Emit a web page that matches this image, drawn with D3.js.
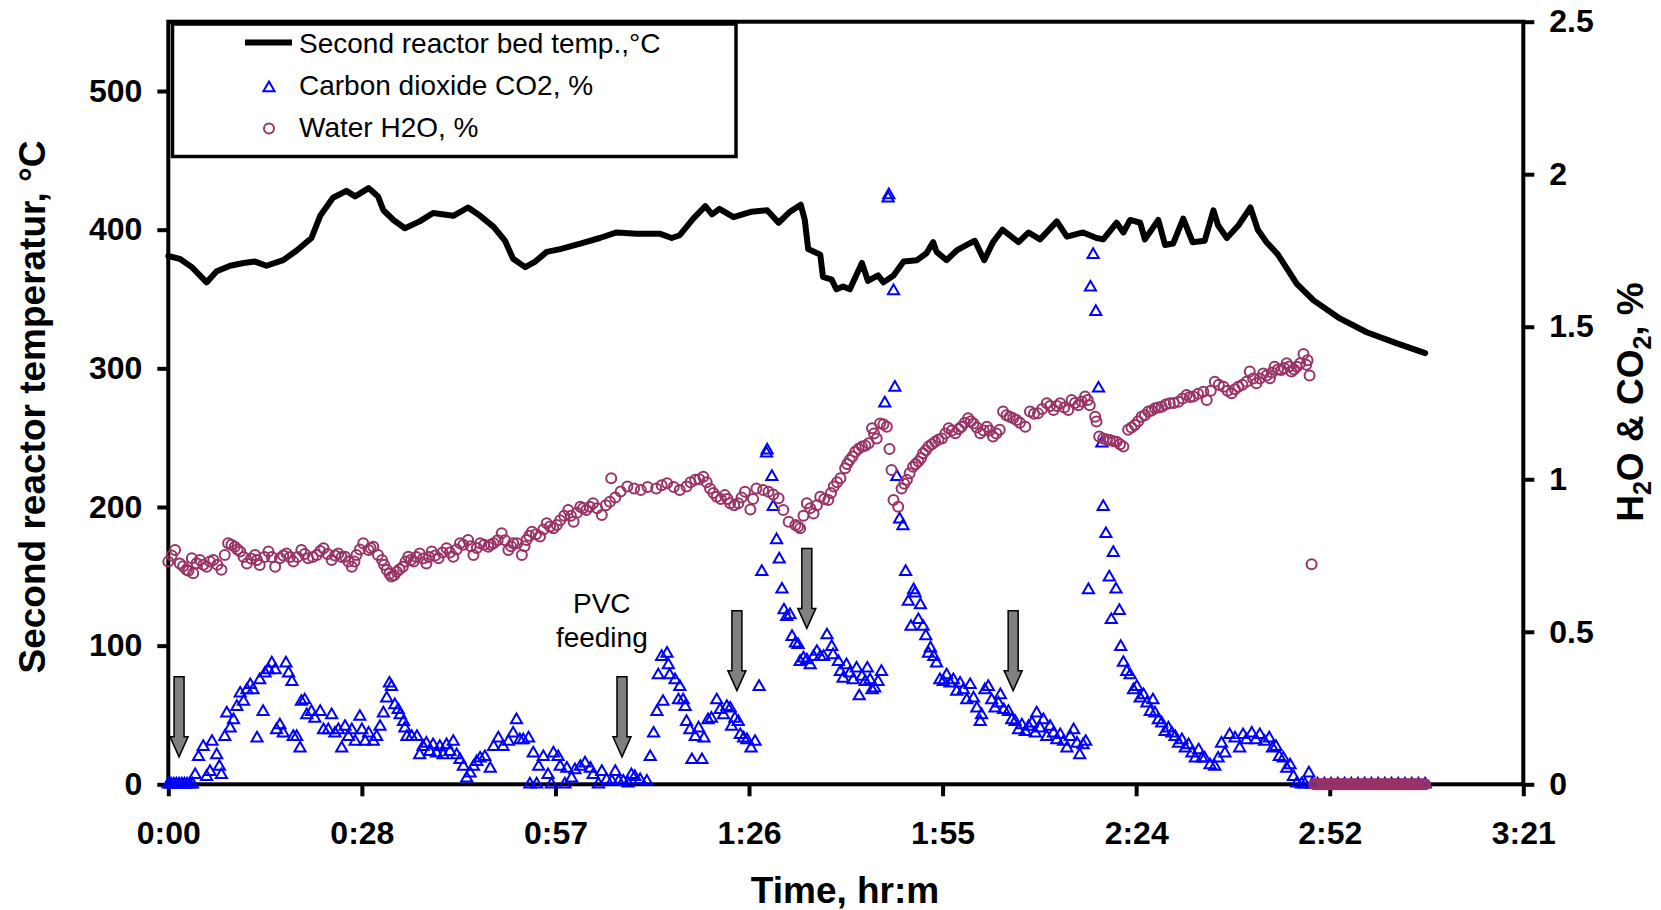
<!DOCTYPE html>
<html>
<head>
<meta charset="utf-8">
<script src="https://cdn.jsdelivr.net/npm/d3@7"></script>
<style>
body { margin: 0; background: #fff; }
svg text { font-family: "Liberation Sans", Arial, sans-serif; fill: #000; }
.axis path.domain { display: none; }
.axis line { stroke: #000; stroke-width: 4; }
.axis text { font-size: 32px; font-weight: bold; }
.title { font-size: 37px; font-weight: bold; }
</style>
</head>
<body>
<div id="chart"></div>
<script>
// time in minutes
var tempData = [
  [0,381],[1.7,379],[3.5,373],[5.7,362],[7.2,370],[9.2,374],[11.2,376],[12.9,377],[14.6,374],[17.1,378],
  [19.1,385],[21.3,394],[22.6,410],[24.5,423],[26.5,428],[27.8,424],[29.8,430],[31.2,424],[32.0,414],[33.5,407],
  [35.2,401],[37.4,406],[39.4,412],[42.4,410],[44.6,416],[46.4,410],[48.4,402],[50.1,392],[51.3,379],[53.1,373],
  [54.6,377],[56.3,384],[58.3,386],[61.3,390],[64.2,394],[66.7,398],[69.7,397],[73.2,397],[74.9,394],[76.1,396],
  [78.1,408],[79.9,417],[80.9,411],[82.0,415],[84.1,409],[86.8,413],[89.1,414],[90.8,405],[92.5,413],[94.1,418],
  [94.7,407],[95.2,386],[97.0,382],[97.4,366],[98.7,364],[99.4,357],[100.4,359],[101.4,357],[103.2,376],[104.1,363],
  [105.6,367],[106.4,362],[107.9,367],[109.4,377],[111.4,378],[112.8,383],[113.8,391],[114.3,384],[115.8,378],[117.3,385],
  [118.8,389],[120.0,392],[121.4,378],[122.7,391],[124.1,400],[126.5,391],[128.0,398],[129.7,393],[132.2,406],[133.7,395],
  [136.1,398],[138.1,394],[139.1,393],[141.1,405],[142.1,398],[143.1,407],[144.6,405],[145.3,393],[147.3,407],[148.3,389],
  [149.5,390],[151.0,408],[152.4,391],[154.2,392],[155.5,414],[156.2,403],[157.5,394],[159.2,403],[161.0,416],[162.1,400],
  [163.4,391],[165.1,382],[167.9,361],[170.4,349],[174.3,336],[178.3,326],[182.8,318],[187.0,311]
];

var co2Data = [
  [0,0],[0.4,0],[0.8,0],[1.2,0],[1.6,0],[2.0,0],[2.4,0],[2.8,0],[3.2,0],[3.6,0],
  [4.0,0.031],[4.5,0.090],[5.2,0.123],[5.7,0.025],[6.2,0.041],[6.5,0.140],[7.2,0.096],[7.6,0.058],[7.9,0.031],[8.4,0.156],
  [8.7,0.233],[9.2,0.184],[9.7,0.211],[10.2,0.254],[10.7,0.298],[11.2,0.271],[11.7,0.309],[12.2,0.326],[12.6,0.309],[13.2,0.151],
  [13.6,0.342],[14.1,0.238],[14.4,0.364],[14.9,0.375],[15.4,0.397],[15.9,0.375],[16.1,0.178],[16.6,0.194],[17.1,0.167],[17.5,0.397],
  [17.9,0.364],[18.4,0.336],[18.6,0.156],[19.1,0.156],[19.6,0.118],[19.8,0.271],[20.3,0.276],[20.6,0.227],[21.3,0.238],[21.8,0.216],
  [22.6,0.238],[23.1,0.178],[23.8,0.178],[24.3,0.227],[24.8,0.167],[25.3,0.178],[25.8,0.118],[26.3,0.189],[26.8,0.156],[27.3,0.178],
  [27.8,0.140],[28.5,0.222],[28.8,0.178],[29.3,0.140],[29.8,0.167],[30.5,0.140],[31.0,0.156],[31.5,0.189],[32.0,0.233],[32.5,0.282],
  [32.9,0.331],[33.2,0.320],[33.7,0.260],[34.2,0.244],[34.5,0.227],[35.0,0.205],[35.2,0.184],[35.5,0.156],[36.2,0.156],[37.0,0.156],
  [37.4,0.096],[37.9,0.123],[38.4,0.134],[38.9,0.107],[39.4,0.129],[39.9,0.102],[40.4,0.123],[40.9,0.096],[41.4,0.129],[41.9,0.107],
  [42.4,0.140],[42.9,0.096],[43.4,0.080],[43.9,0.058],[44.4,0.020],[44.9,0.036],[45.4,0.058],[45.9,0.074],[46.4,0.085],[47.1,0.090],
  [47.9,0.052],[48.4,0.123],[49.1,0.151],[49.8,0.123],[50.6,0.140],[51.3,0.167],[51.8,0.211],[52.3,0.145],[52.8,0.145],[53.6,0.151],
  [53.8,0],[54.3,0.102],[54.8,0],[55.1,0.058],[55.8,0.090],[56.5,0.031],[57.0,0],[57.3,0.102],[58.0,0.090],[58.3,0.058],
  [59.0,0],[59.3,0.052],[60.0,0.020],[60.5,0.047],[61.3,0.058],[62.0,0.069],[62.8,0.052],[63.2,0.031],[64.0,0],[64.5,0.041],
  [65.2,0.014],[66.0,0.009],[66.5,0.041],[67.0,0.009],[67.7,0.009],[68.4,0.003],[68.9,0.031],[69.4,0.025],[70.2,0.014],[71.2,0.009],
  [71.7,0.090],[72.2,0.167],[72.7,0.238],[72.9,0.358],[73.4,0.418],[73.6,0.271],[74.2,0.429],[74.4,0.391],[74.6,0.358],[75.4,0.342],
  [75.9,0.276],[76.1,0.320],[76.6,0.276],[76.9,0.254],[77.1,0.205],[77.6,0.178],[77.9,0.080],[78.4,0.156],[78.9,0.184],[79.4,0.080],
  [79.7,0.151],[80.3,0.211],[80.8,0.216],[81.6,0.276],[82.1,0.244],[82.6,0.227],[83.1,0.254],[83.6,0.249],[83.8,0.189],[84.3,0.216],
  [84.8,0.205],[85.1,0.162],[85.6,0.151],[86.1,0.145],[86.7,0.118],[87.3,0.140],[87.9,0.320],[88.3,0.697],[89.0,1.085],[89.1,1.095],
  [89.8,1.008],[90.0,0.910],[90.5,0.801],[90.9,0.738],[91.3,0.639],[91.6,0.571],[92.0,0.549],[92.5,0.555],[92.8,0.484],[93.3,0.462],
  [93.7,0.457],[94.0,0.402],[94.5,0.413],[95.0,0.407],[95.5,0.391],[96.0,0.418],[96.5,0.435],[97.0,0.418],[97.5,0.418],[98.0,0.489],
  [98.7,0.451],[98.9,0.424],[99.7,0.402],[100.0,0.369],[100.4,0.347],[100.9,0.391],[101.4,0.364],[101.9,0.342],[102.4,0.380],[102.8,0.289],
  [103.2,0.353],[103.7,0.336],[104.0,0.380],[104.4,0.342],[104.7,0.309],[105.1,0.315],[105.6,0.336],[106.1,0.369],[106.6,1.249],[107.1,1.921],
  [107.2,1.932],[107.9,1.617],[108.1,1.301],[108.4,1.008],[108.8,0.869],[109.3,0.847],[109.7,0.697],[110.1,0.599],[110.5,0.517],[110.9,0.637],
  [111.1,0.626],[111.6,0.539],[111.9,0.588],[112.3,0.517],[112.7,0.486],[113.1,0.429],[113.4,0.446],[113.9,0.418],[114.3,0.397],[114.8,0.342],
  [115.3,0.336],[115.8,0.358],[116.3,0.331],[116.8,0.342],[117.3,0.304],[117.8,0.331],[118.3,0.309],[118.8,0.276],[119.3,0.326],[119.8,0.282],
  [120.3,0.249],[120.8,0.205],[121.0,0.227],[121.5,0.309],[122.0,0.320],[122.5,0.276],[123.0,0.249],[123.5,0.266],[123.8,0.293],[124.3,0.244],
  [125.0,0.238],[125.5,0.211],[126.0,0.205],[126.5,0.178],[127.0,0.194],[127.5,0.172],[128.0,0.189],[128.5,0.200],[129.0,0.167],[129.2,0.233],
  [129.7,0.184],[130.2,0.211],[130.7,0.156],[131.2,0.189],[131.7,0.167],[132.2,0.145],[132.7,0.162],[133.2,0.140],[133.7,0.118],[134.2,0.156],
  [134.7,0.178],[135.2,0.134],[135.6,0.096],[136.1,0.129],[136.5,0.140],[136.9,0.637],[137.2,1.629],[137.6,1.736],[138.0,1.549],[138.4,1.298],
  [138.9,1.118],[139.1,0.910],[139.5,0.821],[140.0,0.679],[140.3,0.539],[140.6,0.759],[141.0,0.639],[141.5,0.569],[141.7,0.451],[142.1,0.399],
  [142.6,0.369],[143.1,0.358],[143.6,0.309],[144.1,0.320],[144.6,0.282],[145.1,0.293],[145.6,0.266],[146.1,0.238],[146.5,0.276],[146.8,0.233],
  [147.3,0.211],[147.8,0.200],[148.3,0.172],[148.8,0.184],[149.3,0.167],[149.8,0.156],[150.3,0.134],[150.8,0.145],[151.3,0.118],[151.8,0.129],
  [152.3,0.102],[152.8,0.085],[153.3,0.112],[153.8,0.085],[154.2,0.085],[155.0,0.063],[155.7,0.058],[156.2,0.085],[156.7,0.134],[157.2,0.102],
  [157.9,0.162],[158.7,0.151],[159.4,0.118],[159.9,0.162],[160.4,0.145],[161.2,0.167],[161.8,0.145],[162.4,0.162],[163.1,0.140],[163.8,0.151],
  [164.3,0.118],[164.8,0.123],[165.3,0.090],[165.9,0.085],[166.4,0.052],[166.9,0.063],[167.4,0.025],[167.9,0.003],[168.6,0],[169.1,0],
  [169.7,0.036],[170.2,0],[171,0],[172,0],[173,0],[174,0],[175,0],[176,0],[177,0],[178,0],
  [179,0],[180,0],[181,0],[182,0],[183,0],[184,0],[185,0],[186,0],[187,0]
];

var h2oData = [
  [0.0,0.730],[1.0,0.768],[1.7,0.724],[2.7,0.703],[3.5,0.741],[3.7,0.692],[4.7,0.735],[5.7,0.713],[6.7,0.735],[7.9,0.703],
  [8.4,0.752],[8.9,0.790],[9.9,0.779],[10.7,0.763],[11.7,0.724],[12.9,0.752],[13.6,0.719],[14.9,0.763],[15.9,0.713],[16.6,0.741],
  [17.6,0.757],[18.6,0.730],[19.8,0.768],[20.8,0.741],[22.1,0.752],[23.1,0.774],[24.3,0.735],[25.3,0.757],[26.3,0.746],[27.3,0.713],
  [28.0,0.752],[29.0,0.790],[29.8,0.768],[30.5,0.779],[31.2,0.752],[31.8,0.735],[32.5,0.703],[33.2,0.681],[34.0,0.697],[34.9,0.713],
  [35.7,0.746],[36.5,0.730],[37.4,0.757],[38.4,0.724],[39.2,0.763],[40.2,0.741],[41.4,0.774],[42.4,0.746],[43.4,0.790],[44.6,0.801],
  [45.4,0.752],[46.4,0.790],[47.6,0.779],[48.4,0.790],[49.6,0.823],[50.6,0.768],[51.3,0.790],[52.6,0.752],[53.3,0.801],[54.1,0.828],
  [55.3,0.812],[56.3,0.856],[57.3,0.839],[58.3,0.866],[59.5,0.899],[60.3,0.861],[61.3,0.910],[62.2,0.899],[63.2,0.921],[64.5,0.883],
  [65.7,0.926],[65.9,1.003],[68.3,0.976],[70.3,0.965],[72.6,0.970],[74.2,0.987],[76.1,0.965],[77.1,0.976],[78.4,0.998],[79.6,1.008],
  [80.6,0.970],[81.6,0.943],[82.8,0.948],[83.6,0.921],[84.8,0.921],[85.8,0.959],[86.6,0.901],[87.5,0.970],[89.3,0.959],[90.8,0.938],
  [91.5,0.899],[92.3,0.861],[93.3,0.850],[94.0,0.839],[95.0,0.921],[96.0,0.888],[97.0,0.943],[98.2,0.932],[99.0,0.976],[100.0,1.003],
  [100.7,1.036],[101.4,1.063],[102.2,1.090],[103.2,1.107],[104.2,1.118],[104.7,1.167],[105.4,1.134],[105.9,1.183],[106.9,1.172],[107.3,1.099],
  [107.6,1.030],[107.9,0.932],[108.6,0.910],[109.1,0.970],[109.9,0.998],[110.3,1.020],[110.8,1.041],[111.6,1.058],[112.3,1.085],[113.1,1.107],
  [114.1,1.123],[115.1,1.134],[116.1,1.167],[117.1,1.151],[118.0,1.172],[119.0,1.200],[119.8,1.183],[120.8,1.151],[121.8,1.172],[122.7,1.140],
  [123.7,1.162],[124.2,1.222],[125.2,1.205],[126.2,1.194],[127.5,1.172],[128.2,1.222],[129.4,1.216],[130.7,1.249],[131.7,1.227],[132.7,1.249],
  [133.9,1.227],[134.4,1.260],[135.4,1.243],[136.4,1.271],[137.1,1.243],[137.9,1.205],[138.1,1.189],[138.5,1.140],[139.1,1.134],[140.1,1.129],
  [141.1,1.123],[142.1,1.107],[142.8,1.162],[143.8,1.178],[144.8,1.205],[145.8,1.222],[146.8,1.233],[147.8,1.238],[149.0,1.249],[150.3,1.254],
  [151.5,1.276],[152.5,1.271],[154.0,1.287],[154.5,1.260],[155.7,1.320],[157.0,1.303],[158.2,1.282],[159.2,1.303],[160.4,1.320],[160.9,1.353],
  [161.9,1.315],[162.9,1.347],[163.9,1.331],[164.6,1.369],[165.6,1.358],[166.4,1.380],[167.1,1.353],[167.9,1.369],[168.9,1.411],[169.3,1.375],
  [169.8,1.340],[170.1,0.721],
  // the overlapping circles between the ones above
  [0.5,0.750],[2.2,0.715],[3.0,0.700],[4.2,0.725],[5.2,0.720],[6.2,0.730],[7.3,0.720],[9.4,0.785],[10.3,0.770],[11.2,0.745],
  [12.3,0.740],[13.2,0.735],[14.3,0.745],[15.4,0.745],[17.1,0.750],[18.1,0.745],[19.2,0.745],[20.3,0.755],[21.5,0.745],[22.6,0.765],
  [23.7,0.755],[24.8,0.750],[25.8,0.745],[26.8,0.730],[27.7,0.730],[28.5,0.770],[30.1,0.775],[32.1,0.720],[32.9,0.690],[33.6,0.685],
  [34.4,0.705],[35.3,0.730],[36.1,0.735],[36.9,0.745],[37.9,0.740],[38.8,0.745],[39.7,0.750],[40.8,0.760],[41.9,0.760],[42.9,0.770],
  [43.9,0.785],[45.0,0.780],[45.9,0.775],[47.0,0.785],[48.0,0.785],[49.0,0.800],[50.1,0.800],[51.0,0.780],[51.9,0.790],[53.0,0.780],
  [53.7,0.815],[54.7,0.820],[55.8,0.835],[56.8,0.845],[57.8,0.850],[58.9,0.880],[59.9,0.880],[60.8,0.890],[61.7,0.905],[62.7,0.910],
  [63.8,0.905],[65.1,0.915],[66.5,0.940],[67.3,0.960],[69.3,0.970],[71.3,0.975],[73.4,0.980],[75.2,0.975],[77.7,0.990],[79.0,1.000],
  [80.1,0.990],[81.1,0.955],[82.2,0.935],[83.2,0.935],[84.2,0.915],[85.3,0.940],[87.0,0.935],[88.5,0.965],[90.0,0.950],[93.7,0.845],
  [94.5,0.880],[95.5,0.905],[96.5,0.915],[97.6,0.935],[98.6,0.955],[99.5,0.990],[101.0,1.050],[101.8,1.075],[102.7,1.100],[103.7,1.110],
  [105.0,1.150],[106.4,1.180],[109.5,0.985],[111.2,1.050],[112.0,1.070],[112.7,1.095],[113.6,1.115],[114.6,1.130],[115.6,1.150],[116.6,1.160],
  [117.6,1.165],[118.5,1.185],[119.4,1.190],[120.3,1.170],[121.3,1.160],[122.2,1.160],[123.2,1.150],[124.7,1.210],[125.7,1.200],[126.7,1.185],
  [128.8,1.215],[130.0,1.230],[131.2,1.240],[132.2,1.240],[133.3,1.235],[134.9,1.250],[135.9,1.255],[136.8,1.260],[139.6,1.130],[140.6,1.125],
  [141.6,1.115],[143.3,1.170],[144.3,1.190],[145.3,1.210],[146.3,1.225],[147.3,1.235],[148.4,1.245],[149.6,1.250],[150.9,1.265],[152.0,1.270],
  [153.2,1.280],[155.1,1.290],[156.3,1.310],[157.6,1.290],[158.7,1.295],[159.8,1.310],[161.4,1.330],[162.4,1.330],[163.4,1.340],[164.2,1.350],
  [165.1,1.360],[166.0,1.365],[166.8,1.370],[167.5,1.360],[168.4,1.380],[169.5,1.390]
];

// analyser reads 0 % water after the run
var h2oTail = [
  [170.5,0],[170.8,0],[171.1,0],[171.4,0],[171.7,0],[172.0,0],[172.3,0],[172.6,0],[172.9,0],[173.2,0],
  [173.5,0],[173.8,0],[174.1,0],[174.4,0],[174.7,0],[175.0,0],[175.3,0],[175.6,0],[175.9,0],[176.2,0],
  [176.5,0],[176.8,0],[177.1,0],[177.4,0],[177.7,0],[178.0,0],[178.3,0],[178.6,0],[178.9,0],[179.2,0],
  [179.5,0],[179.8,0],[180.1,0],[180.4,0],[180.7,0],[181.0,0],[181.3,0],[181.6,0],[181.9,0],[182.2,0],
  [182.5,0],[182.8,0],[183.1,0],[183.4,0],[183.7,0],[184.0,0],[184.3,0],[184.6,0],[184.9,0],[185.2,0],
  [185.5,0],[185.8,0],[186.1,0],[186.4,0],[186.7,0],[187.0,0]
];

var xTicks = [0, 28.8, 57.6, 86.4, 115.2, 144, 172.8, 201.6];
var xTickLabels = ["0:00", "0:28", "0:57", "1:26", "1:55", "2:24", "2:52", "3:21"];
var leftTicks = [0, 100, 200, 300, 400, 500];
var rightTicks = [0, 0.5, 1, 1.5, 2, 2.5];

var seriesNames = ["Second reactor bed temp.,\u00b0C", "Carbon dioxide CO2, %", "Water H2O, %"];

// feeding arrows: time and tip height on the % axis
var arrows = [
  {t: 1.6, v: 0.09},
  {t: 67.5, v: 0.09},
  {t: 84.6, v: 0.307},
  {t: 95.0, v: 0.511},
  {t: 125.7, v: 0.307}
];

var width = 1661, height = 910;
var plotLeft = 168.3, plotRight = 1523.3, plotTop = 21.7, plotBottom = 784.3;

var svg = d3.select("#chart").append("svg")
    .attr("width", width)
    .attr("height", height);

var x = d3.scaleLinear().domain([0, 201.6]).range([plotLeft, plotRight]);
var yLeft = d3.scaleLinear().domain([0, 550]).range([plotBottom, plotTop]);
var yRight = d3.scaleLinear().domain([0, 2.5]).range([plotBottom, plotTop]);

// axes
svg.append("g")
    .attr("class", "axis")
    .attr("transform", "translate(0," + plotBottom + ")")
    .call(d3.axisBottom(x).tickValues(xTicks)
        .tickFormat(function(d, i) { return xTickLabels[i]; })
        .tickSize(12).tickSizeOuter(0).tickPadding(25));

svg.append("g")
    .attr("class", "axis")
    .attr("transform", "translate(" + plotLeft + ",0)")
    .call(d3.axisLeft(yLeft).tickValues(leftTicks).tickSize(11).tickSizeOuter(0).tickPadding(15));

svg.append("g")
    .attr("class", "axis")
    .attr("transform", "translate(" + plotRight + ",0)")
    .call(d3.axisRight(yRight).tickValues(rightTicks)
        .tickFormat(function(d) { return String(d); })
        .tickSize(11).tickSizeOuter(0).tickPadding(15));

// plot frame
svg.append("rect")
    .attr("x", plotLeft).attr("y", plotTop)
    .attr("width", plotRight - plotLeft).attr("height", plotBottom - plotTop)
    .attr("fill", "none").attr("stroke", "#000").attr("stroke-width", 4);

// temperature
var line = d3.line()
    .x(function(d) { return x(d[0]); })
    .y(function(d) { return yLeft(d[1]); });

svg.append("path")
    .datum(tempData)
    .attr("d", line)
    .attr("fill", "none")
    .attr("stroke", "#000")
    .attr("stroke-width", 6)
    .attr("stroke-linejoin", "round")
    .attr("stroke-linecap", "round");

// CO2 triangles
var tri = d3.symbol().type(d3.symbolTriangle).size(54);

svg.append("g").selectAll("path")
    .data(co2Data)
    .enter().append("path")
    .attr("d", tri)
    .attr("transform", function(d) { return "translate(" + x(d[0]) + "," + yRight(d[1]) + ")"; })
    .attr("fill", "none")
    .attr("stroke", "#0000ff")
    .attr("stroke-width", 2);

// H2O circles
svg.append("g").selectAll("circle")
    .data(h2oData.concat(h2oTail))
    .enter().append("circle")
    .attr("cx", function(d) { return x(d[0]); })
    .attr("cy", function(d) { return yRight(d[1]); })
    .attr("r", 5)
    .attr("fill", "none")
    .attr("stroke", "#993366")
    .attr("stroke-width", 2);

// arrows
svg.append("g").selectAll("path")
    .data(arrows)
    .enter().append("path")
    .attr("d", function(d) {
        var ax = x(d.t), ay = yRight(d.v);
        return "M" + (ax - 5) + "," + (ay - 80) + "H" + (ax + 5) + "V" + (ay - 20) +
            "H" + (ax + 9) + "L" + ax + "," + ay + "L" + (ax - 9) + "," + (ay - 20) +
            "H" + (ax - 5) + "Z";
    })
    .attr("fill", "#808080")
    .attr("stroke", "#000")
    .attr("stroke-width", 1.5);

var pvc = svg.append("text")
    .attr("x", x(64.5))
    .attr("y", yRight(0.5606))
    .attr("text-anchor", "middle")
    .style("font-size", "28px");
pvc.append("tspan").attr("x", x(64.5)).text("PVC");
pvc.append("tspan").attr("x", x(64.5)).attr("dy", 34).text("feeding");

// axis titles
svg.append("text")
    .attr("class", "title")
    .attr("transform", "translate(45,407) rotate(-90)")
    .attr("text-anchor", "middle")
    .text("Second reactor temperatur, \u00b0C");

svg.append("text")
    .attr("class", "title")
    .attr("x", 845).attr("y", 903)
    .attr("text-anchor", "middle")
    .text("Time, hr:m");

var rt = svg.append("text")
    .attr("class", "title")
    .attr("transform", "translate(1643,402) rotate(-90)")
    .attr("text-anchor", "middle");
rt.append("tspan").text("H");
rt.append("tspan").attr("dy", 8).style("font-size", "25px").text("2");
rt.append("tspan").attr("dy", -8).text("O & CO");
rt.append("tspan").attr("dy", 8).style("font-size", "25px").text("2");
rt.append("tspan").attr("dy", -8).text(", %");

// legend
var legend = svg.append("g");
legend.append("rect")
    .attr("x", 172.5).attr("y", 24)
    .attr("width", 563.5).attr("height", 132.5)
    .attr("fill", "#fff").attr("stroke", "#000").attr("stroke-width", 3.5);

legend.append("line")
    .attr("x1", 245).attr("x2", 292).attr("y1", 42.5).attr("y2", 42.5)
    .attr("stroke", "#000").attr("stroke-width", 6);

legend.append("path")
    .attr("d", tri)
    .attr("transform", "translate(269,88)")
    .attr("fill", "none").attr("stroke", "#0000ff").attr("stroke-width", 2);

legend.append("circle")
    .attr("cx", 269).attr("cy", 128.5).attr("r", 5)
    .attr("fill", "none").attr("stroke", "#993366").attr("stroke-width", 2);

legend.selectAll("text.leg")
    .data(seriesNames)
    .enter().append("text")
    .attr("class", "leg")
    .attr("x", 299)
    .attr("y", function(d, i) { return 53 + i * 42; })
    .style("font-size", "28px")
    .text(function(d) { return d; });
</script>
</body>
</html>
